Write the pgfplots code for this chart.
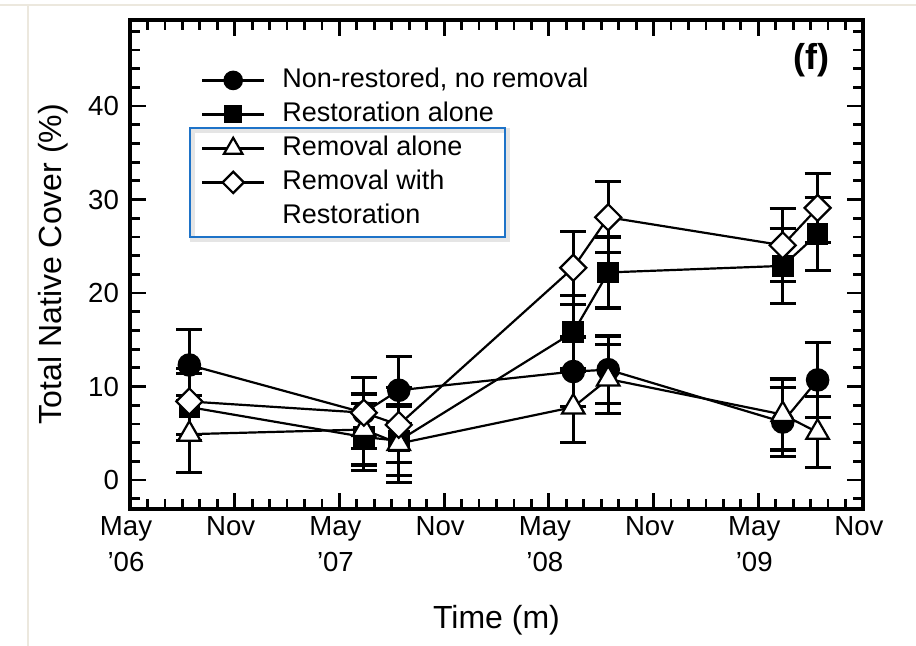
\documentclass[border=0pt]{standalone}
\usepackage{pgfplots}
\pgfplotsset{compat=1.18}
\usepackage{pgfplotstable}
\usepackage{fontspec}
\setmainfont{Liberation Sans}
\definecolor{boxblue}{RGB}{30,115,200}
\definecolor{pageline}{RGB}{236,232,222}

\pgfplotstableread{
x y e
3.4 12.3 3.8
13.4 7.2 3.8
15.4 9.6 3.6
25.4 11.6 3.7
27.4 11.8 3.6
37.4 6.2 3.7
39.4 10.7 4.0
}\circdata
\pgfplotstableread{
x y e
3.4 7.8 3.6
13.4 4.6 3.6
15.4 4.2 3.7
25.4 15.8 3.9
27.4 22.2 3.8
37.4 22.9 4.0
39.4 26.3 3.9
}\squaredata
\pgfplotstableread{
x y e
3.4 4.9 4.1
13.4 5.4 3.8
15.4 3.9 4.2
25.4 7.8 3.8
27.4 10.8 3.7
37.4 7.0 3.8
39.4 5.1 3.8
}\tridata
\pgfplotstableread{
x y e
3.4 8.4 3.5
13.4 7.2 3.8
15.4 5.9 4.0
25.4 22.7 3.9
27.4 28.1 3.8
37.4 25.1 3.9
39.4 29.1 3.7
}\diadata

\pgfplotsset{
  ser/.style={black, line width=1.1pt,
    /pgfplots/error bars/y dir=both, /pgfplots/error bars/y explicit,
    /pgfplots/error bars/error bar style={line width=1.6pt, black, solid},
    /pgfplots/error bars/error mark options={rotate=90, mark size=6.5pt, line width=1.6pt, black}},
}

\begin{document}
\begin{tikzpicture}[x=1pt,y=1pt]
\useasboundingbox (0,0) rectangle (458,323);
\draw[pageline, line width=1pt] (0,320.5) -- (458,320.5);
\draw[pageline, line width=1pt] (14,0) -- (14,320.5);
\begin{axis}[
  at={(65pt,68.5pt)}, anchor=south west,
  scale only axis, width=366.5pt, height=244.5pt,
  xmin=0, xmax=42, ymin=-3.1, ymax=49.2,
  axis line style={line width=1.8pt},
  tick style={line width=1.4pt, color=black},
  major tick length=8pt, minor tick length=5pt,
  tick align=inside,
  xtick={0,6,...,42},
  minor xtick={0,1,...,42},
  ytick={0,10,20,30,40},
  minor ytick={-2,0,...,48},
  xticklabels={May\\’06, Nov, May\\’07, Nov, May\\’08, Nov, May\\’09, Nov},
  xticklabel style={align=center, font=\fontsize{13.8}{18}\selectfont, xshift=-2pt},
  yticklabel style={font=\fontsize{13.8}{16}\selectfont, xshift=-2pt},
  /pgf/number format/assume math mode=true,
  xlabel={Time (m)}, ylabel={Total Native Cover (\%)},
  label style={font=\fontsize{16}{19}\selectfont},
  xlabel style={at={(axis description cs:0.5,-0.228)}, anchor=center},
  ylabel style={at={(axis description cs:-0.105,0.501)}, anchor=center},
  legend style={at={(axis description cs:0.097,0.903)}, anchor=north west,
    draw=none, fill=none, inner sep=0pt, outer sep=0pt,
    font=\fontsize{13.5}{14.5}\selectfont,
    nodes={inner sep=0pt, text height=10pt, text depth=3pt},
    row sep=4pt, column sep=8.5pt},
  legend cell align=left,
  legend image code/.code={\draw[mark repeat=2, mark phase=2, #1, every mark/.append style={scale=0.82}]
     plot coordinates {(0pt,0pt) (15.5pt,0pt) (31pt,0pt)};},
]
\addplot[ser, mark=*, mark size=5.5pt, mark options={fill=black, solid, line width=0.8pt}]
  table[x=x, y=y, y error=e] {\circdata};
\addlegendentry{Non-restored, no removal}
\addplot[ser, mark=square*, mark size=5pt, mark options={fill=black, solid, line width=0.8pt}]
  table[x=x, y=y, y error=e] {\squaredata};
\addlegendentry{Restoration alone}
\addplot[ser, mark=triangle*, mark size=6.5pt, mark options={fill=white, solid, line width=1.1pt}]
  table[x=x, y=y, y error=e] {\tridata};
\addlegendentry{Removal alone}
\addplot[ser, mark=square*, mark size=4.6pt, mark options={fill=white, solid, rotate=45, line width=1.1pt}]
  table[x=x, y=y, y error=e] {\diadata};
\addlegendentry{Removal with}
\addlegendimage{empty legend}
\addlegendentry{Restoration}

\node[font=\bfseries\fontsize{18}{20}\selectfont] at (axis description cs:0.93,0.918) {(f)};
\draw[black, opacity=0.10, line width=2.2pt] ([xshift=1.2pt,yshift=-1.2pt]axis description cs:0.082,0.779) rectangle ([xshift=1.2pt,yshift=-1.2pt]axis description cs:0.512,0.556);
\draw[boxblue, line width=0.8pt] (axis description cs:0.082,0.779) rectangle (axis description cs:0.512,0.556);
\end{axis}
\end{tikzpicture}
\end{document}
